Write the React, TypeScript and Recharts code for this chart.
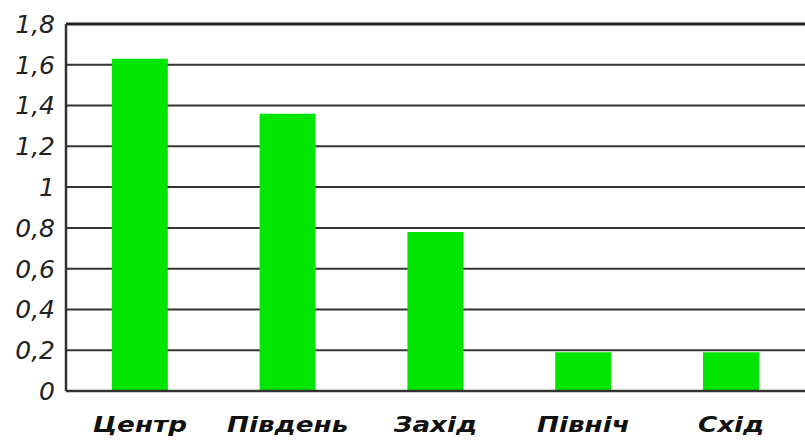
import { BarChart, Bar, XAxis, YAxis, CartesianGrid, ReferenceLine } from 'recharts';

const regions = ['Центр', 'Південь', 'Захід', 'Північ', 'Схід'];
const values = [1.63, 1.36, 0.78, 0.19, 0.19];
const yTicks = [0, 0.2, 0.4, 0.6, 0.8, 1, 1.2, 1.4, 1.6, 1.8];

const data = regions.map((region, i) => ({ region, value: values[i] }));

const FONT = '"DejaVu Sans", Verdana, sans-serif';

// region names are drawn a little wider than the font's natural width
function RegionTick({ x, y, payload }: any) {
    return (
        <g transform={`translate(${x},${y}) scale(1.25,1)`}>
            <text
                x={0}
                y={0}
                dy={41}
                textAnchor="middle"
                fontFamily={FONT}
                fontStyle="italic"
                fontWeight="bold"
                fontSize={21}
                fill="#111"
            >
                {payload.value}
            </text>
        </g>
    );
}

export default function App() {
    return (
        <div style={{ position: 'absolute', left: 0, top: 0, background: '#fff' }}>
            <BarChart
                width={805}
                height={441}
                data={data}
                margin={{ top: 24, right: 0, bottom: 0, left: 0 }}
                barCategoryGap="31%"
            >
                <CartesianGrid vertical={false} stroke="#333" strokeWidth={2} />
                <ReferenceLine y={1.8} stroke="#222" strokeWidth={3} />
                <XAxis
                    dataKey="region"
                    axisLine={{ stroke: '#333', strokeWidth: 2.5 }}
                    tickLine={false}
                    tickSize={0}
                    tickMargin={0}
                    height={50}
                    tick={<RegionTick />}
                    interval={0}
                />
                <YAxis
                    domain={[0, 1.8]}
                    ticks={yTicks}
                    interval={0}
                    width={66}
                    axisLine={{ stroke: '#333', strokeWidth: 2.5 }}
                    tickLine={false}
                    tickSize={0}
                    tickMargin={11}
                    tickFormatter={(v: number) => String(v).replace('.', ',')}
                    tick={{ fontFamily: FONT, fontStyle: 'italic', fontSize: 25, fill: '#222' }}
                />
                <Bar dataKey="value" fill="#00E600" isAnimationActive={false} />
            </BarChart>
        </div>
    );
}
